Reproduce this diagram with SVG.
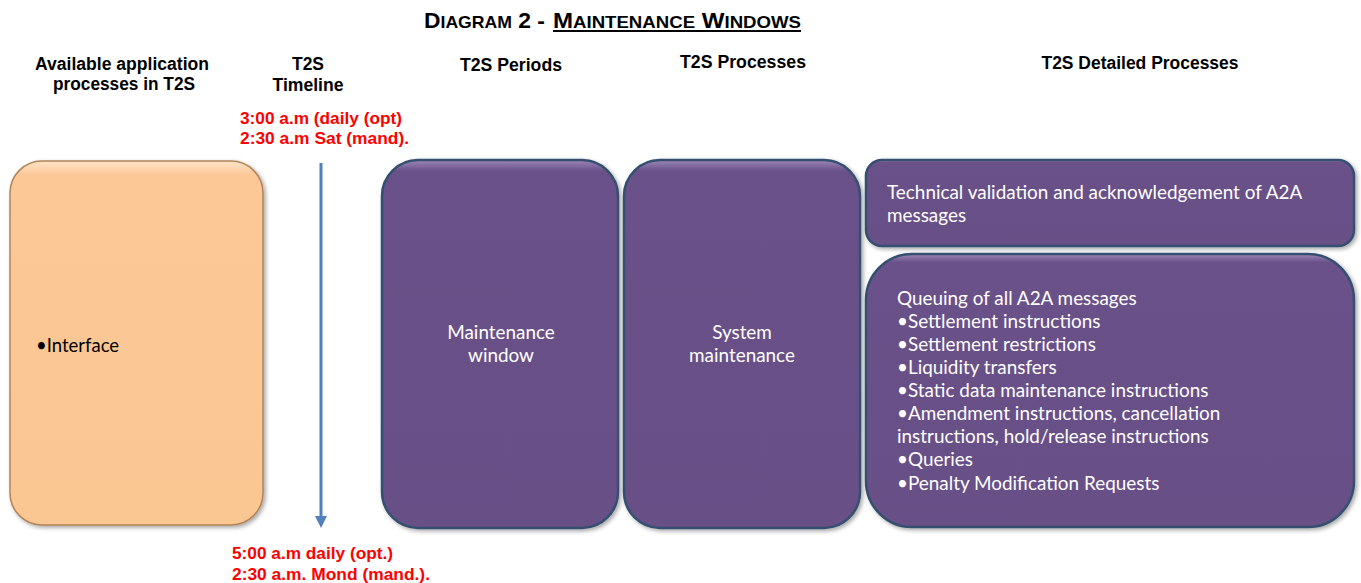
<svg xmlns="http://www.w3.org/2000/svg" width="1361" height="583" viewBox="0 0 1361 583">
<style>
.hdr{font-family:"Liberation Sans",Arial,sans-serif;font-weight:bold;font-size:17.5px;fill:#000;text-anchor:middle}
.red{font-family:"Liberation Sans",Arial,sans-serif;font-weight:bold;font-size:17px;fill:#ff0000}
.ttl{font-family:"Liberation Sans",Arial,sans-serif;font-weight:bold;fill:#000}
.wt{font-family:Lato,"Open Sans",sans-serif;font-size:18.9px;fill:#ffffff}
.wc{font-family:Lato,"Open Sans",sans-serif;font-size:18.9px;fill:#ffffff;text-anchor:middle}
.bt{font-family:Lato,"Open Sans",sans-serif;font-size:18.5px;fill:#000}
.purple{fill:url(#gp);stroke:#34506f;stroke-width:2.5}
.orange{fill:url(#go);stroke:#b08458;stroke-width:1.5}
</style>
<defs>
<linearGradient id="gp" x1="0" y1="0" x2="0" y2="1">
<stop offset="0" stop-color="#9b86b8"/>
<stop offset="0.03" stop-color="#6a5189"/>
<stop offset="1" stop-color="#675086"/>
</linearGradient>
<linearGradient id="go" x1="0" y1="0" x2="0" y2="1">
<stop offset="0" stop-color="#fde2c6"/>
<stop offset="0.04" stop-color="#fbc896"/>
<stop offset="1" stop-color="#fac793"/>
</linearGradient>
<filter id="sh" x="-5%" y="-5%" width="112%" height="112%">
<feDropShadow dx="2" dy="2" stdDeviation="2" flood-color="#000" flood-opacity="0.35"/>
</filter>
<marker id="ah" markerWidth="12" markerHeight="12" refX="6" refY="6" orient="auto" markerUnits="userSpaceOnUse">
<path d="M0,0 L12,6 L0,12 Z" fill="#4f81bd"/>
</marker>
</defs>
<rect width="1361" height="583" fill="#ffffff"/>

<g id="title">
<text class="ttl" x="424" y="28" font-size="22" textLength="121" lengthAdjust="spacingAndGlyphs"><tspan>D</tspan><tspan font-size="17">IAGRAM</tspan><tspan> 2 -</tspan></text>
<text class="ttl" x="553" y="28" font-size="22" textLength="248" lengthAdjust="spacingAndGlyphs"><tspan>M</tspan><tspan font-size="17">AINTENANCE</tspan><tspan> W</tspan><tspan font-size="17">INDOWS</tspan></text>
<line x1="553" y1="31" x2="801" y2="31" stroke="#000" stroke-width="2"/>
</g>

<g id="headers">
<text class="hdr" x="122" y="70" textLength="174" lengthAdjust="spacingAndGlyphs">Available application</text>
<text class="hdr" x="124" y="90" textLength="142" lengthAdjust="spacingAndGlyphs">processes in T2S</text>
<text class="hdr" x="308" y="70" textLength="32" lengthAdjust="spacingAndGlyphs">T2S</text>
<text class="hdr" x="308" y="91" textLength="71" lengthAdjust="spacingAndGlyphs">Timeline</text>
<text class="hdr" x="511" y="71" textLength="102" lengthAdjust="spacingAndGlyphs">T2S Periods</text>
<text class="hdr" x="743" y="68" textLength="126" lengthAdjust="spacingAndGlyphs">T2S Processes</text>
<text class="hdr" x="1140" y="69" textLength="197" lengthAdjust="spacingAndGlyphs">T2S Detailed Processes</text>
</g>

<g id="times">
<text class="red" x="240" y="124" textLength="162" lengthAdjust="spacingAndGlyphs">3:00 a.m (daily (opt)</text>
<text class="red" x="240" y="144" textLength="169" lengthAdjust="spacingAndGlyphs">2:30 a.m Sat (mand).</text>
<text class="red" x="232" y="559" textLength="161" lengthAdjust="spacingAndGlyphs">5:00 a.m daily (opt.)</text>
<text class="red" x="232" y="580" textLength="198" lengthAdjust="spacingAndGlyphs">2:30 a.m. Mond (mand.).</text>
</g>

<g id="connectors">
<line x1="321" y1="163" x2="321" y2="522" stroke="#4f81bd" stroke-width="3" marker-end="url(#ah)"/>
</g>

<g id="node-interface">
<rect class="orange" x="10" y="161" width="253" height="364" rx="32" filter="url(#sh)"/>
<text class="bt" x="36" y="352">•Interface</text>
</g>

<g id="node-maintenance-window">
<rect class="purple" x="382" y="160" width="236" height="368" rx="36" filter="url(#sh)"/>
<text class="wc" x="501" y="339">Maintenance</text>
<text class="wc" x="501" y="362">window</text>
</g>

<g id="node-system-maintenance">
<rect class="purple" x="624" y="160" width="236" height="368" rx="36" filter="url(#sh)"/>
<text class="wc" x="742" y="339">System</text>
<text class="wc" x="742" y="362">maintenance</text>
</g>

<g id="node-technical-validation">
<rect class="purple" x="866" y="160" width="488" height="86" rx="16" filter="url(#sh)"/>
<text class="wt" x="887" y="199">Technical validation and acknowledgement of A2A</text>
<text class="wt" x="887" y="222">messages</text>
</g>

<g id="node-queuing">
<rect class="purple" x="866" y="254" width="488" height="273" rx="46" filter="url(#sh)"/>
<text class="wt" x="897" y="305">Queuing of all A2A messages</text>
<text class="wt" x="897" y="328">•Settlement instructions</text>
<text class="wt" x="897" y="351">•Settlement restrictions</text>
<text class="wt" x="897" y="374">•Liquidity transfers</text>
<text class="wt" x="897" y="397">•Static data maintenance instructions</text>
<text class="wt" x="897" y="420">•Amendment instructions, cancellation</text>
<text class="wt" x="897" y="443">instructions, hold/release instructions</text>
<text class="wt" x="897" y="466">•Queries</text>
<text class="wt" x="897" y="490">•Penalty Modification Requests</text>
</g>
</svg>
